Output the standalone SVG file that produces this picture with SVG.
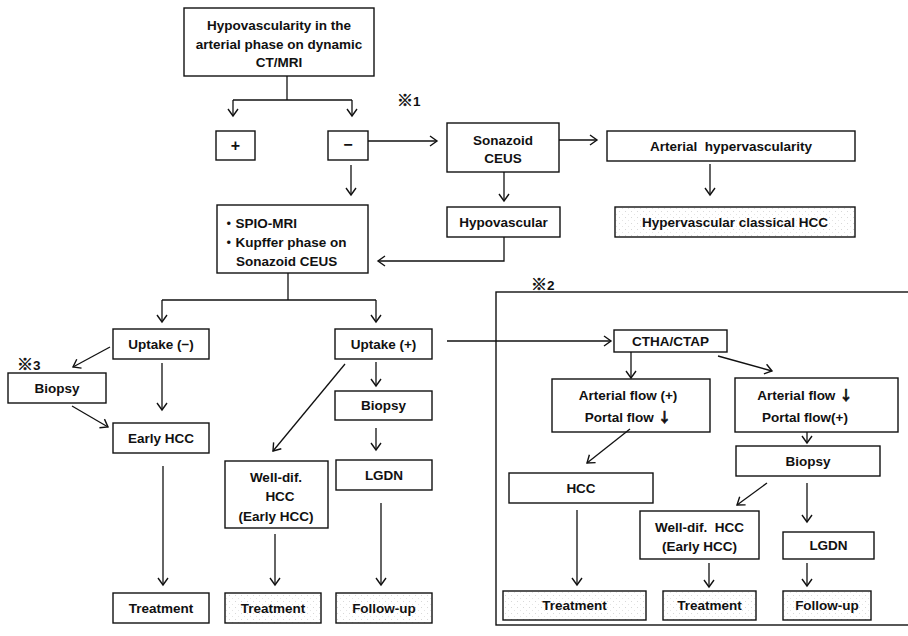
<svg xmlns="http://www.w3.org/2000/svg" width="908" height="636" viewBox="0 0 908 636">
<style>
.b{fill:#fff;stroke:#111;stroke-width:1.4}
.d{fill:url(#dots);stroke:#111;stroke-width:1.4}
.t{font-family:"Liberation Sans","Noto Sans CJK JP",sans-serif;font-size:13.5px;font-weight:bold;fill:#111;text-anchor:middle}
.l{text-anchor:start}
.k{font-family:"Noto Sans CJK JP",sans-serif;font-size:16px;font-weight:bold;stroke:#111;stroke-width:0.5}
.v{font-family:"Noto Sans CJK JP",sans-serif;font-size:13.5px;font-weight:bold;stroke:#111;stroke-width:0.6}
.c line,.c polyline{stroke:#111;stroke-width:1.3;fill:none}
.a{marker-end:url(#ah)}
</style>
<defs>
<marker id="ah" markerUnits="userSpaceOnUse" viewBox="-8 -6 10 12" refX="0" refY="0" markerWidth="10" markerHeight="12" orient="auto">
<path d="M-7,-5 L0,0 L-7,5" fill="none" stroke="#111" stroke-width="1.4"/>
</marker>
<pattern id="dots" patternUnits="userSpaceOnUse" width="6" height="6">
<rect width="6" height="6" fill="#fff"/>
<rect x="1" y="1" width="1" height="1" fill="#d8d8d8"/>
<rect x="4" y="4" width="1" height="1" fill="#e4e4e4"/>
</pattern>
</defs>
<rect x="0" y="0" width="908" height="636" fill="#fff"/>

<g id="panel2">
<rect x="496" y="292" width="420" height="333" fill="none" stroke="#111" stroke-width="1.4"/>
</g>

<g id="notes">
<text class="t l" x="397" y="106"><tspan class="k">※</tspan>1</text>
<text class="t l" x="531" y="290"><tspan class="k">※</tspan>2</text>
<text class="t l" x="17" y="370"><tspan class="k">※</tspan>3</text>
</g>

<g id="n-top"><rect class="b" x="184" y="8" width="190" height="68"/>
<text class="t" x="279" y="30">Hypovascularity in the</text>
<text class="t" x="279" y="48.5">arterial phase on dynamic</text>
<text class="t" x="279" y="67">CT/MRI</text></g>

<g id="n-plus"><rect class="b" x="216" y="131" width="39" height="29"/>
<text class="t" x="235.5" y="151" style="font-size:16px">+</text></g>

<g id="n-minus"><rect class="b" x="328" y="131" width="40" height="29"/>
<text class="t" x="348" y="150" style="font-size:16px">−</text></g>

<g id="n-sonazoid"><rect class="b" x="447" y="123" width="112" height="49"/>
<text class="t" x="503" y="145">Sonazoid</text>
<text class="t" x="503" y="163">CEUS</text></g>

<g id="n-arthyper"><rect class="b" x="607" y="131" width="248" height="30"/>
<text class="t" x="731" y="151" xml:space="preserve">Arterial  hypervascularity</text></g>

<g id="n-classical"><rect class="d" x="615" y="207" width="240" height="30"/>
<text class="t" x="735" y="227">Hypervascular classical HCC</text></g>

<g id="n-hypovasc"><rect class="b" x="447" y="207" width="113" height="30"/>
<text class="t" x="503.5" y="227">Hypovascular</text></g>

<g id="n-spio"><rect class="b" x="217" y="205" width="151" height="68"/>
<text class="t l" x="222" y="228">・SPIO-MRI</text>
<text class="t l" x="222" y="247">・Kupffer phase on</text>
<text class="t l" x="236" y="266">Sonazoid CEUS</text></g>

<g id="n-upneg"><rect class="b" x="113" y="329" width="96" height="30"/>
<text class="t" x="161" y="349">Uptake (−)</text></g>

<g id="n-uppos"><rect class="b" x="335" y="329" width="97" height="30"/>
<text class="t" x="383.5" y="349">Uptake (+)</text></g>

<g id="n-biopsy1"><rect class="b" x="8" y="373" width="98" height="30"/>
<text class="t" x="57" y="393">Biopsy</text></g>

<g id="n-earlyhcc"><rect class="b" x="113" y="423" width="96" height="30"/>
<text class="t" x="161" y="443">Early HCC</text></g>

<g id="n-treat1"><rect class="b" x="113" y="593" width="96" height="30"/>
<text class="t" x="161" y="613">Treatment</text></g>

<g id="n-biopsy2"><rect class="b" x="335" y="391" width="97" height="29"/>
<text class="t" x="383.5" y="410">Biopsy</text></g>

<g id="n-welldif1"><rect class="b" x="225" y="461" width="103" height="67"/>
<text class="t" x="276" y="482">Well-dif.</text>
<text class="t" x="280" y="501">HCC</text>
<text class="t" x="276" y="521">(Early HCC)</text></g>

<g id="n-treat2"><rect class="d" x="225" y="593" width="96" height="30"/>
<text class="t" x="273" y="613">Treatment</text></g>

<g id="n-lgdn1"><rect class="b" x="336" y="460" width="96" height="30"/>
<text class="t" x="384" y="480">LGDN</text></g>

<g id="n-follow1"><rect class="d" x="336" y="593" width="96" height="30"/>
<text class="t" x="384" y="613">Follow-up</text></g>

<g id="n-ctha"><rect class="b" x="614" y="330" width="113" height="22"/>
<text class="t" x="670.5" y="346">CTHA/CTAP</text></g>

<g id="n-artpos"><rect class="b" x="552" y="379" width="158" height="53"/>
<text class="t" x="628" y="400">Arterial flow (+)</text>
<text class="t" x="628" y="422">Portal flow <tspan class="v">↓</tspan></text></g>

<g id="n-artneg"><rect class="b" x="735" y="378" width="163" height="54"/>
<text class="t" x="805" y="400">Arterial flow <tspan class="v">↓</tspan></text>
<text class="t" x="805" y="422">Portal flow(+)</text></g>

<g id="n-biopsy3"><rect class="b" x="736" y="446" width="144" height="30"/>
<text class="t" x="808" y="466">Biopsy</text></g>

<g id="n-hcc"><rect class="b" x="509" y="473" width="144" height="30"/>
<text class="t" x="581" y="493">HCC</text></g>

<g id="n-treat3"><rect class="d" x="503" y="591" width="143" height="29"/>
<text class="t" x="574.5" y="610">Treatment</text></g>

<g id="n-welldif2"><rect class="b" x="640" y="511" width="119" height="48"/>
<text class="t" x="699.5" y="532" xml:space="preserve">Well-dif.  HCC</text>
<text class="t" x="699.5" y="551">(Early HCC)</text></g>

<g id="n-treat4"><rect class="d" x="663" y="591" width="93" height="29"/>
<text class="t" x="709.5" y="610">Treatment</text></g>

<g id="n-lgdn2"><rect class="b" x="783" y="532" width="91" height="27"/>
<text class="t" x="828.5" y="550">LGDN</text></g>

<g id="n-follow2"><rect class="d" x="783" y="591" width="88" height="29"/>
<text class="t" x="827" y="610">Follow-up</text></g>

<g id="connectors" class="c">
<line x1="287" y1="76" x2="287" y2="100"/>
<line x1="233" y1="100" x2="352" y2="100"/>
<line class="a" x1="233" y1="100" x2="233" y2="116"/>
<line class="a" x1="352" y1="100" x2="352" y2="116"/>
<line class="a" x1="368" y1="141" x2="437" y2="141"/>
<line class="a" x1="351" y1="165" x2="351" y2="195"/>
<line class="a" x1="559" y1="140" x2="597" y2="140"/>
<line class="a" x1="710" y1="164" x2="710" y2="195"/>
<line class="a" x1="504" y1="172" x2="504" y2="201"/>
<polyline class="a" points="504,237 504,261 378,261"/>
<line x1="288" y1="273" x2="288" y2="300"/>
<line x1="162" y1="300" x2="376" y2="300"/>
<line class="a" x1="162" y1="300" x2="162" y2="322"/>
<line class="a" x1="376" y1="300" x2="376" y2="322"/>
<line class="a" x1="110" y1="347" x2="73" y2="367"/>
<line class="a" x1="72" y1="406" x2="108" y2="427"/>
<line class="a" x1="162" y1="363" x2="162" y2="410"/>
<line class="a" x1="163" y1="466" x2="163" y2="585"/>
<line class="a" x1="376" y1="362" x2="376" y2="386"/>
<line class="a" x1="345" y1="364" x2="273" y2="451"/>
<line class="a" x1="275" y1="534" x2="275" y2="585"/>
<line class="a" x1="376" y1="428" x2="376" y2="450"/>
<line class="a" x1="381" y1="503" x2="381" y2="585"/>
<line class="a" x1="447" y1="341" x2="611" y2="341"/>
<line class="a" x1="631" y1="352" x2="631" y2="378"/>
<line class="a" x1="718" y1="356" x2="772" y2="371"/>
<line class="a" x1="807" y1="432" x2="807" y2="443"/>
<line class="a" x1="630" y1="429" x2="587" y2="463"/>
<line class="a" x1="577" y1="510" x2="577" y2="585"/>
<line class="a" x1="767" y1="483" x2="737" y2="505"/>
<line class="a" x1="709" y1="563" x2="709" y2="587"/>
<line class="a" x1="807" y1="483" x2="807" y2="522"/>
<line class="a" x1="807" y1="563" x2="807" y2="586"/>
</g>
</svg>
